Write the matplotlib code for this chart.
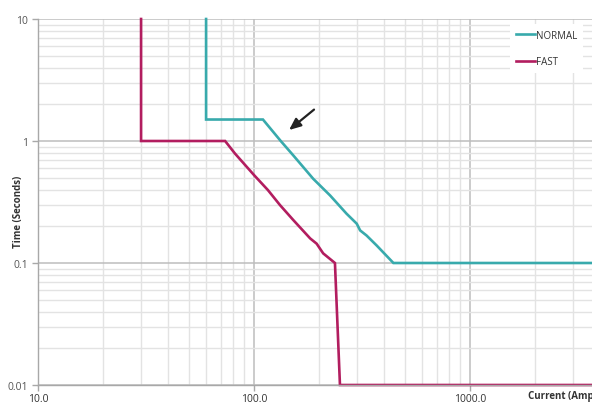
import matplotlib
matplotlib.use('Agg')
import matplotlib.pyplot as plt
from matplotlib.ticker import FixedLocator, FixedFormatter, LogLocator, NullFormatter

plt.rcParams['font.family'] = ['Open Sans', 'DejaVu Sans']

# curve data (current in A, time in s)
normal_current = [60, 60, 110, 133, 152, 188, 225, 268, 299, 310, 332, 370, 442, 10000]
normal_time = [10, 1.5, 1.5, 1.0, 0.762, 0.49, 0.358, 0.254, 0.21, 0.185, 0.168, 0.139, 0.1, 0.1]
fast_current = [30, 30, 73.5, 81.6, 100, 116, 132, 152, 182, 195, 209, 237, 250, 10000]
fast_time = [10, 1.0, 1.0, 0.79, 0.526, 0.396, 0.298, 0.225, 0.159, 0.144, 0.12, 0.1, 0.01, 0.01]

x_ticks = [10, 100, 1000, 10000]
x_tick_labels = ['10.0', '100.0', '1000.0', '10000.0']
y_ticks = [0.01, 0.1, 1, 10]
y_tick_labels = ['0.01', '0.1', '1', '10']

arrow_tail = (194, 1.87)
arrow_head = (142, 1.19)

teal = '#38aaac'
magenta = '#b21d5f'

W, H = 592, 406
fig = plt.figure(figsize=(W / 100, H / 100), dpi=100)
# axes run past the right edge like in the reference
ax = fig.add_axes([38 / W, 20 / H, 648 / W, 366 / H])

ax.set_xscale('log')
ax.set_yscale('log')
ax.set_xlim(10, 10000)
ax.set_ylim(0.01, 10)

ax.xaxis.set_major_locator(FixedLocator(x_ticks))
ax.xaxis.set_major_formatter(FixedFormatter(x_tick_labels))
ax.yaxis.set_major_locator(FixedLocator(y_ticks))
ax.yaxis.set_major_formatter(FixedFormatter(y_tick_labels))
ax.xaxis.set_minor_locator(LogLocator(base=10, subs=range(2, 10)))
ax.yaxis.set_minor_locator(LogLocator(base=10, subs=range(2, 10)))
ax.xaxis.set_minor_formatter(NullFormatter())
ax.yaxis.set_minor_formatter(NullFormatter())

ax.grid(which='major', color='#bdbdbd', linewidth=1.1)
ax.grid(which='minor', color='#e3e3e3', linewidth=1.0)
ax.set_axisbelow(True)

for s in ['top', 'right']:
    ax.spines[s].set_visible(False)
for s in ['left', 'bottom']:
    ax.spines[s].set_color('#a8a8a8')
    ax.spines[s].set_linewidth(1.0)

ax.tick_params(which='major', length=4, width=1, color='#a8a8a8', labelsize=7.5)
ax.tick_params(which='minor', length=0)
ax.tick_params(axis='y', labelcolor='#555555', pad=3)
ax.tick_params(axis='x', labelcolor='#333333', pad=2)

ax.plot(normal_current, normal_time, color=teal, linewidth=1.9, label='NORMAL',
        solid_joinstyle='miter', clip_on=False)
ax.plot(fast_current, fast_time, color=magenta, linewidth=1.9, label='FAST',
        solid_joinstyle='miter', clip_on=False)

ax.annotate('', xy=arrow_head, xytext=arrow_tail,
            arrowprops=dict(arrowstyle='-|>,head_length=0.7,head_width=0.3',
                            color='#222222', linewidth=1.6))

fig.text(19 / W, 1 - 212 / H, 'Time (Seconds)', fontsize=7, fontweight='bold',
         color='#333333', rotation=90, ha='center', va='center')
fig.text(528 / W, 1 - 397 / H, 'Current (Amps)', fontsize=7, fontweight='bold',
         color='#333333', ha='left', va='center')

leg = ax.legend(loc='upper left', bbox_to_anchor=(510 / W, 1 - 25 / H),
                bbox_transform=fig.transFigure, frameon=True, fancybox=False,
                facecolor='white', edgecolor='none', framealpha=1,
                fontsize=7, handlelength=2.0, handletextpad=0.1,
                labelspacing=1.6, borderpad=0.6, borderaxespad=0)
for t in leg.get_texts():
    t.set_color('#333333')

fig.savefig('out.png', dpi=100)
